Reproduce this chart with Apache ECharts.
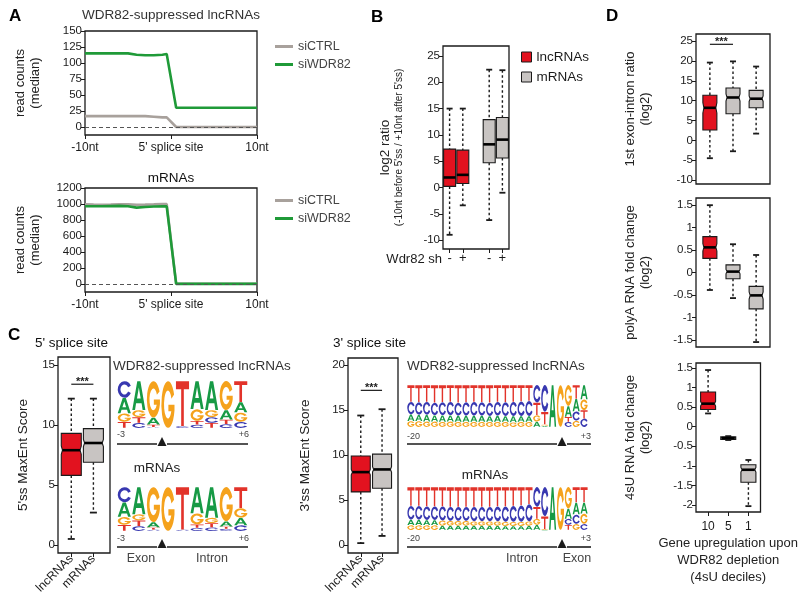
<!DOCTYPE html>
<html><head><meta charset="utf-8">
<script src="https://cdn.jsdelivr.net/npm/echarts@6.0.0/dist/echarts.min.js"></script>
<style>html,body{margin:0;padding:0;background:#fff}#c{width:800px;height:616px}</style>
</head><body><div id="c"></div>
<script>
// ---------------- Panel A data ----------------
const ntPos        = [-10,-9,-8,-7,-6,-5,-4,-3,-2,-1,-0.5,0.6,1,2,3,4,5,6,7,8,9,10];
const lncCtrl      = [17,17,17,17,17,17,17,17,16,15,15,0,0,0,0,0,0,0,0,0,0,0];
const lncSiWDR82   = [115,115,115,115,115,115,113,112,112,113,114,30,30,30,30,30,30,30,30,30,30,30];
const mrnaCtrl     = [995,992,990,992,995,995,990,992,995,1000,998,4,4,4,4,4,4,4,4,4,4,4];
const mrnaSiWDR82  = [972,972,972,974,976,972,955,962,968,970,970,2,2,2,2,2,2,2,2,2,2,2];
const aXTicks      = [-10,0,10];
const aXLabels     = ['-10nt',"5' splice site",'10nt'];
const aTopYTicks   = [0,25,50,75,100,125,150];
const aBotYTicks   = [0,200,400,600,800,1000,1200];

// ---------------- Panel B data ----------------
const bPos   = [1,2,4,5];
const bGroup = ['lncRNAs','lncRNAs','mRNAs','mRNAs'];
const bSh    = ['-','+','-','+'];
const bLow   = [-9.0,-3.4,-6.2,-1.0];
const bQ1    = [0.2,0.75,4.7,5.6];
const bMed   = [1.9,2.4,8.2,9.1];
const bQ3    = [7.3,7.1,12.9,13.3];
const bHigh  = [15,15,22.4,22.3];
const bYTicks = [-10,-5,0,5,10,15,20,25];

// ---------------- Panel C data ----------------
const cCats   = ['lncRNAs','mRNAs'];
const cPos    = [1,2];
const c5Low   = [0.5,2.7];
const c5Q1    = [5.8,6.9];
const c5Med   = [7.9,8.5];
const c5Q3    = [9.3,9.7];
const c5High  = [12.2,12.2];
const c5Notch = [0.35,0.3];
const c5Sig   = [1,2,13.4];
const c5YTicks = [0,5,10,15];
const c3Low   = [0.2,1.0];
const c3Q1    = [5.9,6.3];
const c3Med   = [8.1,8.4];
const c3Q3    = [9.9,10.1];
const c3High  = [14.4,15.1];
const c3Notch = [0.3,0.3];
const c3Sig   = [1,2,17.2];
const c3YTicks = [0,5,10,15,20];

// sequence logos (letter probabilities per position)
const logo5Pos = ['-3','+6'];
const logo5LncA = [.33,.62,.15,0,0,.60,.62,.20,.22];
const logo5LncC = [.36,.11,.02,0,.04,.07,.12,.08,.13];
const logo5LncG = [.18,.15,.78,1,0,.25,.15,.62,.20];
const logo5LncT = [.13,.12,.05,0,.96,.08,.11,.10,.45];
const logo5MrnaA = [.33,.62,.12,0,0,.60,.70,.12,.17];
const logo5MrnaC = [.35,.11,.03,0,.03,.07,.08,.05,.13];
const logo5MrnaG = [.18,.14,.80,1,0,.25,.12,.78,.22];
const logo5MrnaT = [.14,.13,.05,0,.97,.08,.10,.05,.48];
const logo3Pos = ['-20','+3'];
const logo3LncT = [.40,.41,.40,.42,.41,.40,.42,.41,.40,.41,.42,.40,.41,.40,.39,.38,.30,.30,0,0,.12,.33,.20];
const logo3LncC = [.30,.30,.31,.30,.31,.32,.31,.32,.33,.32,.32,.33,.33,.34,.35,.36,.42,.64,0,0,.12,.22,.20];
const logo3LncA = [.16,.15,.16,.15,.16,.15,.15,.15,.15,.15,.14,.15,.14,.15,.14,.14,.13,.03,1,0,.26,.30,.34];
const logo3LncG = [.14,.14,.13,.13,.12,.13,.12,.12,.12,.12,.12,.12,.12,.11,.12,.12,.15,.03,0,1,.50,.15,.26];
const logo3MrnaT = [.44,.44,.45,.45,.45,.46,.46,.46,.46,.46,.46,.45,.45,.44,.43,.40,.28,.30,0,0,.12,.36,.36];
const logo3MrnaC = [.32,.32,.32,.32,.33,.33,.33,.33,.34,.34,.34,.35,.36,.37,.38,.40,.46,.68,0,0,.14,.22,.14];
const logo3MrnaA = [.13,.13,.12,.12,.10,.10,.10,.10,.10,.10,.10,.10,.09,.09,.09,.10,.12,.01,1,0,.24,.28,.26];
const logo3MrnaG = [.11,.11,.11,.11,.12,.11,.11,.11,.10,.10,.10,.10,.10,.10,.10,.10,.14,.01,0,1,.50,.14,.24];

// ---------------- Panel D data ----------------
const dCats = ['10','5','1'];
const dPos  = [1,2,3];
const d1Low = [-4.5,-2.75,1.7];
const d1Q1  = [2.6,6.7,8.2];
const d1Med = [8.2,10.8,10.5];
const d1Q3  = [11.35,13.2,12.6];
const d1High= [19.6,19.9,18.6];
const d1Notch=[1.3,0.9,0.7];
const d1Sig = [1,2,24.2];
const d1YTicks = [-10,-5,0,5,10,15,20,25];
const d2Low = [-0.39,-0.57,-1.55];
const d2Q1  = [0.315,-0.14,-0.81];
const d2Med = [0.56,0.02,-0.51];
const d2Q3  = [0.8,0.17,-0.31];
const d2High= [1.5,0.63,0.39];
const d2Notch=[0.08,0.05,0.08];
const d2YTicks = [-1.5,-1,-0.5,0,0.5,1,1.5];
const d3Low = [0.34,-0.34,-2.03];
const d3Q1  = [0.44,-0.325,-1.42];
const d3Med = [0.59,-0.29,-1.1];
const d3Q3  = [0.89,-0.26,-0.97];
const d3High= [1.45,-0.24,-0.85];
const d3Notch=[0.06,0.01,0.06];
const d3YTicks = [-2,-1.5,-1,-0.5,0,0.5,1,1.5];

// ---------------- styling ----------------
const FONT = "'Liberation Sans', Arial, Helvetica, sans-serif";
const INK = '#1b1b1b';
const RED = '#e2121f';
const GREY = '#c8c4c2';
const CTRL_COL = '#a8a19c';
const SI_COL = '#1f9a38';
const LETTERS = ['A','C','G','T'];
const LETTER_COLOR = {A:'#179a45', C:'#3838b0', G:'#f5a21c', T:'#e2332a'};
const LETTER_PATH = {
  A: 'M0,100 L38,0 L62,0 L100,100 L79,100 L71,77 L29,77 L21,100 Z M36,60 L64,60 L50,22 Z',
  C: 'M95,28 A48,50 0 1 0 95,72 L76,63 A28,30 0 1 1 76,37 Z',
  G: 'M95,28 A48,50 0 1 0 98,62 L98,50 L54,50 L54,64 L75,64 A28,30 0 1 1 76,37 Z',
  T: 'M0,0 L100,0 L100,18 L60,18 L60,100 L40,100 L40,18 L0,18 Z'
};

function lab(ticks, labels){ return v => { const i = ticks.findIndex(t => Math.abs(t - v) < 1e-6); return i < 0 ? '' : labels[i]; }; }
function fmtNum(v){ return String(Math.round(v*100)/100); }

function yAx(gi, min, max, ticks, name, gap, extra){
  return Object.assign({
    type:'value', gridIndex:gi, min, max, splitLine:{show:false}, axisLine:{show:false, onZero:false},
    axisTick:{show:true, inside:false, length:4, customValues:ticks, lineStyle:{color:INK,width:1}},
    axisLabel:{show:true, customValues:ticks, formatter:fmtNum, fontSize:11.5, color:INK, margin:3, fontFamily:FONT},
    name, nameLocation:'middle', nameGap:gap,
    nameTextStyle:{fontSize:13, color:'#222', fontFamily:FONT, lineHeight:15}
  }, extra || {});
}
function xAx(gi, min, max, ticks, labels, extra){
  return Object.assign({
    type:'value', gridIndex:gi, min, max, splitLine:{show:false}, axisLine:{show:false, onZero:false},
    axisTick:{show:!!ticks, inside:false, length:4, customValues:ticks || [], lineStyle:{color:INK,width:1}},
    axisLabel:{show:!!ticks, customValues:ticks || [], formatter: ticks ? lab(ticks, labels) : null, fontSize:12, color:INK, margin:7, fontFamily:FONT}
  }, extra || {});
}
function hidAx(gi, min, max){ return {type:'value', gridIndex:gi, min, max, show:false, splitLine:{show:false}, axisLine:{onZero:false}}; }

function makeBoxRender(boxW, capW, indentFrac){
  return function(params, api){
    const x = api.value(0);
    const c = v => api.coord([x, v]);
    const cx = c(api.value(1))[0];
    const yLow = c(api.value(1))[1], yQ1 = c(api.value(2))[1], yMed = c(api.value(3))[1];
    const yQ3 = c(api.value(4))[1], yHigh = c(api.value(5))[1];
    const nh = api.value(6);
    const hw = boxW/2;
    const fill = api.visual('color');
    const dash = {stroke:INK, lineWidth:1.4, lineDash:[2.5,2.5], fill:null};
    const solid = {stroke:INK, lineWidth:1.8};
    const ch = [
      {type:'line', shape:{x1:cx,y1:yHigh,x2:cx,y2:yQ3}, style:dash},
      {type:'line', shape:{x1:cx,y1:yQ1,x2:cx,y2:yLow}, style:dash},
      {type:'line', shape:{x1:cx-capW/2,y1:yHigh,x2:cx+capW/2,y2:yHigh}, style:solid},
      {type:'line', shape:{x1:cx-capW/2,y1:yLow,x2:cx+capW/2,y2:yLow}, style:solid}
    ];
    let mw = hw;
    if (nh > 0) {
      const m = api.value(3);
      const yNl = c(Math.max(m - nh, api.value(2)))[1], yNh = c(Math.min(m + nh, api.value(4)))[1];
      mw = hw * (1 - indentFrac);
      const pts = [[cx-hw,yQ1],[cx-hw,yNl],[cx-mw,yMed],[cx-hw,yNh],[cx-hw,yQ3],[cx+hw,yQ3],[cx+hw,yNh],[cx+mw,yMed],[cx+hw,yNl],[cx+hw,yQ1]];
      ch.push({type:'polygon', shape:{points:pts}, style:{fill, stroke:INK, lineWidth:1.1}});
    } else {
      ch.push({type:'rect', shape:{x:cx-hw, y:yQ3, width:boxW, height:yQ1-yQ3}, style:{fill, stroke:INK, lineWidth:1.1}});
    }
    ch.push({type:'line', shape:{x1:cx-mw, y1:yMed, x2:cx+mw, y2:yMed}, style:{stroke:'#000', lineWidth:2.6}});
    return {type:'group', children:ch};
  };
}
function boxSeries(name, ai, idx, pos, low, q1, med, q3, high, notch, colors, boxW, capW, indent){
  return {
    type:'custom', name, xAxisIndex:ai, yAxisIndex:ai, silent:true, z:5,
    itemStyle:{color:colors[idx[0]]},
    renderItem: makeBoxRender(boxW, capW, indent),
    data: idx.map(i => ({value:[pos[i], low[i], q1[i], med[i], q3[i], high[i], notch ? notch[i] : 0], itemStyle:{color:colors[i]}}))
  };
}
function sigSeries(ai, sig){
  return {
    type:'custom', xAxisIndex:ai, yAxisIndex:ai, silent:true, z:6,
    renderItem(params, api){
      const p1 = api.coord([api.value(0), api.value(2)]), p2 = api.coord([api.value(1), api.value(2)]);
      return {type:'group', children:[
        {type:'line', shape:{x1:p1[0], y1:p1[1], x2:p2[0], y2:p2[1]}, style:{stroke:INK, lineWidth:1.2}},
        {type:'text', x:(p1[0]+p2[0])/2, y:p1[1]+3, style:{text:'***', font:'bold 11px '+FONT, fill:INK, textAlign:'center', textVerticalAlign:'bottom', align:'center', verticalAlign:'bottom'}}
      ]};
    },
    data:[sig]
  };
}
function logoData(a, c, g, t){
  const out = [];
  for (let i = 0; i < a.length; i++){
    const col = [['A',a[i]],['C',c[i]],['G',g[i]],['T',t[i]]].filter(d => d[1] > 0.005).sort((p,q) => p[1]-q[1]);
    let y = 0;
    col.forEach(([L,h]) => { out.push([i, y, y+h, LETTERS.indexOf(L)]); y += h; });
  }
  return out;
}
function logoRender(params, api){
  const i = api.value(0), y0 = api.value(1), y1 = api.value(2), L = LETTERS[api.value(3)];
  const p0 = api.coord([i, y0]), p1 = api.coord([i+1, y1]);
  const w = p1[0]-p0[0], h = p0[1]-p1[1];
  return {type:'path', shape:{pathData:LETTER_PATH[L], x:p0[0]+w*0.05, y:p1[1]+0.15, width:w*0.9, height:Math.max(h-0.3, 0.6), layout:'cover'}, style:{fill:LETTER_COLOR[L]}};
}
function logoSeries(ai, a, c, g, t){
  return {type:'custom', xAxisIndex:ai, yAxisIndex:ai, silent:true, renderItem:logoRender, data:logoData(a,c,g,t)};
}

const frame = {show:true, borderColor:INK, borderWidth:1.3, backgroundColor:'rgba(0,0,0,0)'};
const grids = [
  Object.assign({left:85, top:31, width:172, height:104}, frame),   // 0 A top
  Object.assign({left:85, top:188, width:172, height:104}, frame),  // 1 A bottom
  Object.assign({left:443, top:46, width:66, height:203}, frame),   // 2 B
  Object.assign({left:58, top:357, width:52, height:196}, frame),   // 3 C 5'
  Object.assign({left:348, top:358, width:50, height:195}, frame),  // 4 C 3'
  Object.assign({left:696, top:34, width:74, height:150}, frame),   // 5 D1
  Object.assign({left:696, top:198, width:74, height:149}, frame),  // 6 D2
  Object.assign({left:696, top:363, width:74, height:149}, frame),  // 7 D3
  {left:117, top:381, width:131, height:47},                        // 8 logo 5' lnc
  {left:117, top:487, width:131, height:44},                        // 9 logo 5' mRNA
  {left:407, top:385, width:181, height:42},                        // 10 logo 3' lnc
  {left:407, top:487, width:181, height:43}                         // 11 logo 3' mRNA
];

const xAxes = [
  xAx(0, -10, 10, aXTicks, aXLabels),
  xAx(1, -10, 10, aXTicks, aXLabels),
  xAx(2, 0.5, 5.5, bPos, bSh, {axisLabel:{customValues:bPos, formatter:lab(bPos,bSh), fontSize:13, color:INK, margin:3, fontFamily:FONT}}),
  xAx(3, 0.4, 2.75, cPos, cCats, {axisLabel:{customValues:cPos, formatter:lab(cPos,cCats), rotate:45, fontSize:12, color:INK, margin:4, fontFamily:FONT}}),
  xAx(4, 0.4, 2.75, cPos, cCats, {axisLabel:{customValues:cPos, formatter:lab(cPos,cCats), rotate:45, fontSize:12, color:INK, margin:4, fontFamily:FONT}}),
  xAx(5, 0.4, 3.6, null, null),
  xAx(6, 0.4, 3.6, null, null),
  xAx(7, 0.4, 3.6, dPos, dCats, {name:'Gene upregulation upon\nWDR82 depletion\n(4sU deciles)', nameLocation:'middle', nameGap:23,
      nameTextStyle:{fontSize:13, color:'#222', fontFamily:FONT, lineHeight:17}}),
  hidAx(8, 0, 9), hidAx(9, 0, 9), hidAx(10, 0, 23), hidAx(11, 0, 23)
];
xAxes[7].axisLabel.margin = 9;
const yAxes = [
  yAx(0, -12.5, 150, aTopYTicks, 'read counts\n(median)', 42),
  yAx(1, -100, 1200, aBotYTicks, 'read counts\n(median)', 42),
  yAx(2, -11.7, 26.9, bYTicks, "{a|log2 ratio}\n{b|(-10nt before 5'ss / +10nt after 5'ss)}", 38,
      {nameTextStyle:{fontFamily:FONT, color:'#222', rich:{a:{fontSize:13.5, lineHeight:16, fontFamily:FONT, color:'#222'}, b:{fontSize:10, lineHeight:12, fontFamily:FONT, color:'#222'}}}}),
  yAx(3, -0.67, 15.67, c5YTicks, "5'ss MaxEnt Score", 28, {nameTextStyle:{fontSize:13.5, color:'#222', fontFamily:FONT}}),
  yAx(4, -0.9, 20.8, c3YTicks, "3'ss MaxEnt Score", 36, {nameTextStyle:{fontSize:13.5, color:'#222', fontFamily:FONT}}),
  yAx(5, -11, 26.8, d1YTicks, '1st exon-intron ratio\n(log2)', 43),
  yAx(6, -1.66, 1.66, d2YTicks, 'polyA RNA fold change\n(log2)', 43),
  yAx(7, -2.18, 1.63, d3YTicks, '4sU RNA fold change\n(log2)', 43),
  hidAx(8, 0, 1), hidAx(9, 0, 1), hidAx(10, 0, 1), hidAx(11, 0, 1)
];

const zeroLine = {silent:true, symbol:'none', label:{show:false}, lineStyle:{type:[4,3], color:'#555', width:1}, data:[{yAxis:0}]};
function lineS(name, ai, ys, color, z, ml){
  const s = {type:'line', name, xAxisIndex:ai, yAxisIndex:ai, symbol:'none', z,
    lineStyle:{color, width:2.6}, itemStyle:{color}, data: ntPos.map((x,i) => [x, ys[i]])};
  if (ml) s.markLine = zeroLine;
  return s;
}

const bColors = bGroup.map(g => g === 'lncRNAs' ? RED : GREY);
const cColors = [RED, GREY];
const dColors = [RED, GREY, GREY];

const series = [
  lineS('siCTRL', 0, lncCtrl, CTRL_COL, 3, true),
  lineS('siWDR82', 0, lncSiWDR82, SI_COL, 4, false),
  lineS('siCTRL', 1, mrnaCtrl, CTRL_COL, 3, true),
  lineS('siWDR82', 1, mrnaSiWDR82, SI_COL, 4, false),
  boxSeries('lncRNAs', 2, [0,1], bPos, bLow, bQ1, bMed, bQ3, bHigh, null, bColors, 12, 6, 0),
  boxSeries('mRNAs', 2, [2,3], bPos, bLow, bQ1, bMed, bQ3, bHigh, null, bColors, 12, 6, 0),
  boxSeries('c5', 3, [0,1], cPos, c5Low, c5Q1, c5Med, c5Q3, c5High, c5Notch, cColors, 20, 7, 0.12),
  sigSeries(3, c5Sig),
  boxSeries('c3', 4, [0,1], cPos, c3Low, c3Q1, c3Med, c3Q3, c3High, c3Notch, cColors, 19, 7, 0.12),
  sigSeries(4, c3Sig),
  boxSeries('d1', 5, [0,1,2], dPos, d1Low, d1Q1, d1Med, d1Q3, d1High, d1Notch, dColors, 14, 6, 0.15),
  sigSeries(5, d1Sig),
  boxSeries('d2', 6, [0,1,2], dPos, d2Low, d2Q1, d2Med, d2Q3, d2High, d2Notch, dColors, 14, 6, 0.15),
  boxSeries('d3', 7, [0,1,2], dPos, d3Low, d3Q1, d3Med, d3Q3, d3High, d3Notch, dColors, 15, 6, 0.15),
  logoSeries(8, logo5LncA, logo5LncC, logo5LncG, logo5LncT),
  logoSeries(9, logo5MrnaA, logo5MrnaC, logo5MrnaG, logo5MrnaT),
  logoSeries(10, logo3LncA, logo3LncC, logo3LncG, logo3LncT),
  logoSeries(11, logo3MrnaA, logo3MrnaC, logo3MrnaG, logo3MrnaT)
];

const legText = {fontSize:12.5, color:'#444', fontFamily:FONT};
const legends = [
  {left:270, top:35, orient:'vertical', itemWidth:18, itemHeight:3, itemGap:5, selectedMode:false, textStyle:legText,
   data:[{name:'siCTRL', icon:'rect', itemStyle:{color:CTRL_COL}}, {name:'siWDR82', icon:'rect', itemStyle:{color:SI_COL}}]},
  {left:270, top:189, orient:'vertical', itemWidth:18, itemHeight:3, itemGap:5, selectedMode:false, textStyle:legText,
   data:[{name:'siCTRL', icon:'rect', itemStyle:{color:CTRL_COL}}, {name:'siWDR82', icon:'rect', itemStyle:{color:SI_COL}}]},
  {left:516, top:45, orient:'vertical', itemWidth:10, itemHeight:10, itemGap:6, selectedMode:false,
   textStyle:{fontSize:13.5, color:INK, fontFamily:FONT},
   data:[{name:'lncRNAs', icon:'rect', itemStyle:{color:RED, borderColor:INK, borderWidth:1}},
         {name:'mRNAs', icon:'rect', itemStyle:{color:GREY, borderColor:INK, borderWidth:1}}]}
];

function txt(text, x, y, size, opts){
  opts = opts || {};
  const al = opts.align || 'left';
  return {type:'text', x, y, silent:true, style:{text, font:(opts.bold?'bold ':'')+size+'px '+FONT, fill:opts.color||'#222',
    textAlign:al, textVerticalAlign:'middle', align:al, verticalAlign:'middle'}};
}
function seg(x1,y1,x2,y2){ return {type:'line', silent:true, shape:{x1,y1,x2,y2}, style:{stroke:INK, lineWidth:1.6}}; }
function tri(x, yTop, yBot){ return {type:'polygon', silent:true, shape:{points:[[x,yTop],[x-4.5,yBot],[x+4.5,yBot]]}, style:{fill:INK}}; }

const graphics = [
  txt('A', 9, 16, 17, {bold:true, color:'#000'}),
  txt('B', 371, 17, 17, {bold:true, color:'#000'}),
  txt('C', 8, 335, 17, {bold:true, color:'#000'}),
  txt('D', 606, 16, 17, {bold:true, color:'#000'}),
  txt('WDR82-suppressed lncRNAs', 171, 15, 13.5, {align:'center', color:'#333'}),
  txt('mRNAs', 171, 178, 13.5, {align:'center', color:'#111'}),
  txt('Wdr82 sh', 442, 259, 13, {align:'right', color:INK}),
  txt("5' splice site", 35, 343, 13.5, {color:'#111'}),
  txt("3' splice site", 333, 343, 13.5, {color:'#111'}),
  // 5' logos
  txt('WDR82-suppressed lncRNAs', 113, 366, 13.5, {color:'#333'}),
  txt(logo5Pos[0], 117, 435, 9, {color:'#444'}),
  txt(logo5Pos[1], 249, 435, 9, {align:'right', color:'#444'}),
  seg(117,444,157,444), seg(167,444,248,444), tri(162,437,446),
  txt('mRNAs', 157, 468, 13.5, {align:'center', color:'#222'}),
  txt(logo5Pos[0], 117, 539, 9, {color:'#444'}),
  txt(logo5Pos[1], 249, 539, 9, {align:'right', color:'#444'}),
  seg(117,547,157,547), seg(167,547,248,547), tri(162,539,548),
  txt('Exon', 141, 559, 12.5, {align:'center', color:'#444'}),
  txt('Intron', 212, 559, 12.5, {align:'center', color:'#444'}),
  // 3' logos
  txt('WDR82-suppressed lncRNAs', 407, 366, 13.5, {color:'#333'}),
  txt(logo3Pos[0], 407, 437, 9, {color:'#444'}),
  txt(logo3Pos[1], 591, 437, 9, {align:'right', color:'#444'}),
  seg(407,444,557,444), seg(567,444,591,444), tri(562,437,446),
  txt('mRNAs', 485, 475, 13.5, {align:'center', color:'#222'}),
  txt(logo3Pos[0], 407, 539, 9, {color:'#444'}),
  txt(logo3Pos[1], 591, 539, 9, {align:'right', color:'#444'}),
  seg(407,547,557,547), seg(567,547,591,547), tri(562,539,548),
  txt('Intron', 522, 559, 12.5, {align:'center', color:'#444'}),
  txt('Exon', 577, 559, 12.5, {align:'center', color:'#444'})
];

const chart = echarts.init(document.getElementById('c'), null, {renderer:'canvas', width:800, height:616});
chart.setOption({
  backgroundColor:'#ffffff',
  animation:false,
  textStyle:{fontFamily:FONT},
  grid:grids, xAxis:xAxes, yAxis:yAxes, series, legend:legends,
  graphic:{elements:graphics}
});
</script></body></html>
